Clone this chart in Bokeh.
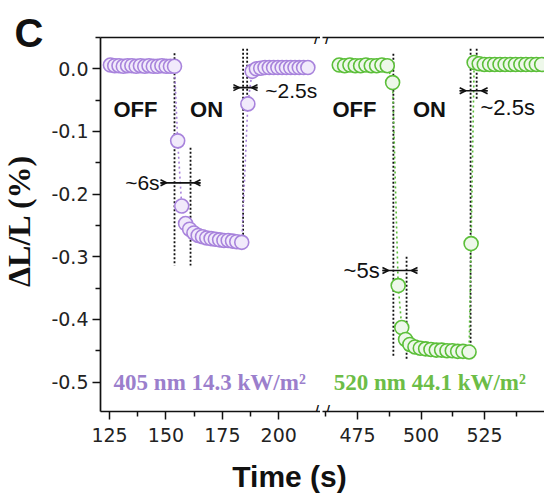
import math
from bokeh.plotting import figure
from bokeh.layouts import row, column
from bokeh.models import Range1d, LinearAxis, FixedTicker, PrintfTickFormatter, Label, Arrow, OpenHead, Grid
from bokeh.embed import file_html
from bokeh.resources import INLINE

# ---------------- data ----------------
t405 = [125.4, 127.3, 129.2, 131.1, 133.0, 134.9, 136.8, 138.7, 140.6, 142.5, 144.4, 146.3, 148.2, 150.1, 152.0, 153.8,
        155.2, 157.0, 158.7, 160.5, 162.4, 164.3, 166.2, 168.1, 170.0, 171.9, 173.8, 175.7, 177.6, 179.5, 181.4, 183.6,
        186.3, 188.2, 190.1, 192.0, 193.9, 195.8, 197.7, 199.6, 201.5, 203.4, 205.3, 207.2, 209.1, 211.0, 212.9]
v405 = [0.006, 0.005, 0.005, 0.004, 0.005, 0.005, 0.004, 0.005, 0.004, 0.005, 0.004, 0.004, 0.005, 0.004, 0.004, 0.004,
        -0.115, -0.219, -0.247, -0.256, -0.262, -0.266, -0.268, -0.270, -0.271, -0.272, -0.273, -0.274, -0.274, -0.275, -0.276, -0.277,
        -0.056, -0.004, 0.000, 0.001, 0.002, 0.002, 0.002, 0.002, 0.002, 0.002, 0.002, 0.002, 0.002, 0.002, 0.002]

t520 = [467.8, 469.9, 472.0, 474.1, 476.2, 478.3, 480.4, 482.5, 484.6, 486.7, 488.8,
        491.0, 492.4, 493.9, 495.6, 497.6, 499.7, 501.8, 503.9, 506.0, 508.1, 510.2, 512.3, 514.4, 516.5, 518.9,
        519.7, 520.9, 522.9, 524.9, 527.0, 529.0, 531.1, 533.1, 535.2, 537.2, 539.3, 541.3, 543.4, 545.4, 547.5]
v520 = [0.006, 0.005, 0.006, 0.005, 0.005, 0.006, 0.005, 0.005, 0.006, 0.005, -0.022,
        -0.346, -0.413, -0.432, -0.440, -0.444, -0.446, -0.447, -0.448, -0.449, -0.449, -0.450, -0.450, -0.451, -0.451, -0.452,
        -0.279, 0.010, 0.008, 0.007, 0.007, 0.007, 0.007, 0.007, 0.007, 0.007, 0.007, 0.007, 0.007, 0.007, 0.007]

left_ticks = [125, 150, 175, 200]
left_minor = [137.5, 162.5, 187.5]
right_ticks = [475, 500, 525]
right_minor = [462.5, 487.5, 512.5, 537.5]
y_ticks = [0.0, -0.1, -0.2, -0.3, -0.4, -0.5]
y_minor = [0.05, -0.05, -0.15, -0.25, -0.35, -0.45]

# switching guide lines (dotted)
g405_t = [153.8, 160.9, 184.2, 186.0]
g405_top = [0.025, -0.126, 0.032, 0.032]
g405_bot = [-0.314, -0.314, -0.280, -0.070]
g520_t = [489.1, 494.3, 519.5, 521.9]
g520_top = [0.024, -0.300, 0.032, 0.032]
g520_bot = [-0.460, -0.465, -0.455, -0.050]

# response-time markers: (left end, right end, level)
dim405 = [(147.6, 165.3, -0.182), (179.9, 190.6, -0.030)]
dim520 = [(484.8, 498.6, -0.322), (515.2, 526.2, -0.035)]

PURPLE = "#a883dc"
PURPLE_FILL = "#f1eafb"
PURPLE_TXT = "#9b7fcc"
GREEN = "#5cbf3a"
GREEN_FILL = "#eef8ea"
GREEN_TXT = "#6cbd47"
INK = "#111111"

FH = 374
TOP = 37
BOTTOM = 40
H_MAIN = TOP + FH + BOTTOM
FW1, FW2 = 220, 222
yr = Range1d(-0.547, 0.05)
xr1 = Range1d(121.0, 218.5)
xr2 = Range1d(461.2, 548.6)


def no_grid(p):
    p.center = [r for r in p.center if not isinstance(r, Grid)]


def make_fig(xr, fw, bl, br):
    p = figure(x_range=xr, y_range=yr, frame_width=fw, frame_height=FH,
               output_backend="svg", toolbar_location=None, title_location=None,
               x_axis_location=None, y_axis_location=None,
               min_border_left=bl, min_border_right=br, min_border_top=TOP, min_border_bottom=BOTTOM)
    p.outline_line_color = None
    no_grid(p)
    return p


def style_axis(ax, size="19px"):
    ax.axis_line_width = 1.7
    ax.axis_line_color = INK
    ax.major_tick_line_color = INK
    ax.minor_tick_line_color = INK
    ax.major_tick_line_width = 1.5
    ax.minor_tick_line_width = 1.5
    ax.major_tick_in = 0
    ax.major_tick_out = 8
    ax.minor_tick_in = 0
    ax.minor_tick_out = 5
    ax.major_label_text_font = "DejaVu Sans"
    ax.major_label_text_font_size = size
    ax.major_label_text_color = "#222222"


def add_axes(p, ticks, minor):
    xb = LinearAxis(ticker=FixedTicker(ticks=ticks, minor_ticks=minor))
    style_axis(xb)
    xb.major_label_standoff = 8
    p.add_layout(xb, "below")
    xa = LinearAxis(ticker=FixedTicker(ticks=[]))
    style_axis(xa)
    xa.major_tick_out = 0
    xa.minor_tick_out = 0
    p.add_layout(xa, "above")


def lab(p, x, y, text, size, color=INK, bold=False, align="center", baseline="middle",
        font="Liberation Sans", xo=0, yo=0, angle=0.0):
    p.add_layout(Label(x=x, y=y, text=text, text_font_size=f"{size}px", text_color=color,
                       text_font_style="bold" if bold else "normal", text_align=align,
                       text_baseline=baseline, text_font=font, x_offset=xo, y_offset=yo, angle=angle))


def draw_panel(p, t, v, col, fill, gt, gtop, gbot, dims, fw):
    p.segment(x0=gt, y0=gtop, x1=gt, y1=gbot, line_color=INK, line_width=1.8, line_dash="2 2")
    p.line(t, v, line_color=col, line_width=1.6, line_dash="2 3")
    p.scatter(t, v, marker="circle", size=14, line_color=col, line_width=1.6, fill_color=fill)
    unit = (p.x_range.end - p.x_range.start) / fw
    for (a, b, yy) in dims:
        p.segment(x0=[a], y0=[yy], x1=[b], y1=[yy], line_color=INK, line_width=1.6)
        head = 6 * unit
        p.add_layout(Arrow(end=OpenHead(size=6, line_width=1.6, line_color=INK),
                           x_start=a, y_start=yy, x_end=a + head, y_end=yy,
                           line_width=1.6, line_color=INK))
        p.add_layout(Arrow(end=OpenHead(size=6, line_width=1.6, line_color=INK),
                           x_start=b, y_start=yy, x_end=b - head, y_end=yy,
                           line_width=1.6, line_color=INK))


# ---------------- panel letter + y title strip ----------------
W0 = 45
p0 = figure(width=W0, height=H_MAIN, x_range=Range1d(0, W0), y_range=Range1d(0, H_MAIN),
            output_backend="svg", toolbar_location=None, title_location=None, min_border=0,
            x_axis_location=None, y_axis_location=None)
p0.outline_line_color = None
p0.frame_align = False
no_grid(p0)
lab(p0, 14, H_MAIN - 32, "C", 40, bold=True, align="left", baseline="middle")
lab(p0, 18, H_MAIN - 220, "ΔL/L (%)", 32, bold=True, font="Liberation Serif", angle=math.pi / 2)

# ---------------- left panel (405 nm) ----------------
p1 = make_fig(xr1, FW1, 55, 0)
add_axes(p1, left_ticks, left_minor)
ya = LinearAxis(ticker=FixedTicker(ticks=y_ticks, minor_ticks=y_minor),
                formatter=PrintfTickFormatter(format="%.1f"))
style_axis(ya)
ya.major_label_standoff = 4
p1.add_layout(ya, "left")
draw_panel(p1, t405, v405, PURPLE, PURPLE_FILL, g405_t, g405_top, g405_bot, dim405, FW1)

lab(p1, 136.5, -0.065, "OFF", 22, bold=True)
lab(p1, 168.0, -0.065, "ON", 22, bold=True)
lab(p1, 147.2, -0.182, "~6s", 21, align="right")
lab(p1, 194.0, -0.035, "~2.5s", 21, align="left")
lab(p1, 126.8, -0.500, "405 nm 14.3 kW/m²", 23, color=PURPLE_TXT, bold=True, font="Liberation Serif", align="left")
for yy in (yr.end, yr.start):
    lab(p1, xr1.end, yy, "/", 18, xo=-4)

# ---------------- right panel (520 nm) ----------------
p2 = make_fig(xr2, FW2, 2, 0)
add_axes(p2, right_ticks, right_minor)
draw_panel(p2, t520, v520, GREEN, GREEN_FILL, g520_t, g520_top, g520_bot, dim520, FW2)

lab(p2, 473.8, -0.065, "OFF", 22, bold=True)
lab(p2, 503.3, -0.065, "ON", 22, bold=True)
lab(p2, 483.7, -0.322, "~5s", 22, align="right")
lab(p2, 523.4, -0.062, "~2.5s", 22, align="left")
lab(p2, 465.6, -0.500, "520 nm 44.1 kW/m²", 23, color=GREEN_TXT, bold=True, font="Liberation Serif", align="left")
for yy in (yr.end, yr.start):
    lab(p2, xr2.start, yy, "/", 18, xo=5)

# ---------------- shared x-axis title ----------------
H3 = 496 - H_MAIN
p3 = figure(width=544, height=H3, x_range=Range1d(0, 544), y_range=Range1d(0, H3),
            output_backend="svg", toolbar_location=None, title_location=None, min_border=0,
            x_axis_location=None, y_axis_location=None)
p3.outline_line_color = None
p3.frame_align = False
no_grid(p3)
lab(p3, 289, H3 - 25, "Time (s)", 30, bold=True)

layout = column(row(p0, p1, p2), p3)
open("out.html", "w").write(file_html(layout, INLINE))
